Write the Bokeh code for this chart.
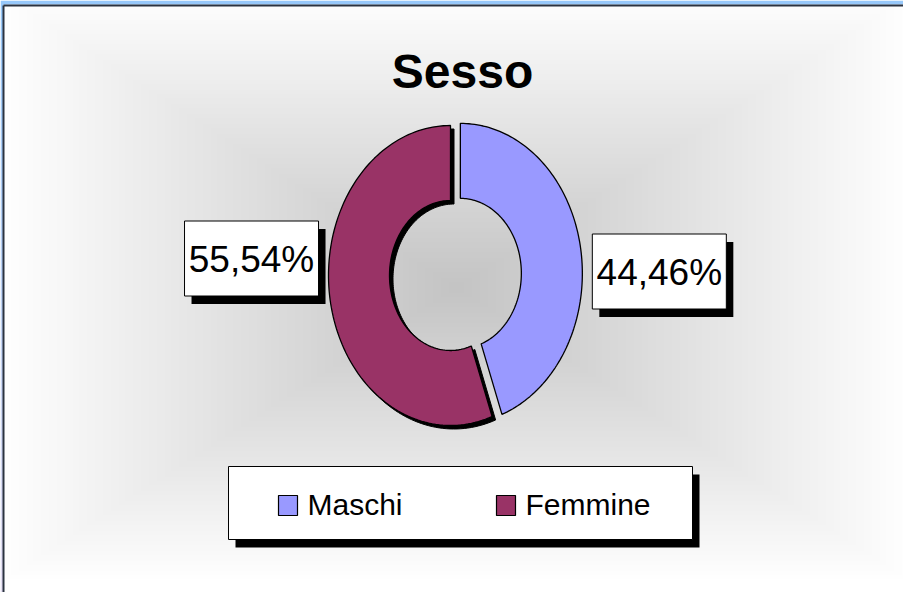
import numpy as np
from bokeh.plotting import figure
from bokeh.models import Range1d
from bokeh.core.properties import value
from bokeh.embed import file_html
from bokeh.resources import INLINE

# ---------------- data ----------------
title = "Sesso"
categories = ["Maschi", "Femmine"]
percentages = [44.46, 55.54]
label_texts = ["44,46%", "55,54%"]
colors = ["#9999ff", "#993366"]

# ---------------- style / layout (pixel-like data units, y up) ----------------
W, H = 903, 592
X0, X1 = 8, 911
Y0, Y1 = 0, 592
FONT = "Liberation Sans"

cx, cy = 458.0, 317.0          # donut centre
rx, ry = 122.0, 150.0          # outer radii (chart is stretched vertically)
hole = 0.5                     # inner/outer ratio
explode_px = [10.0, 0.0]       # per slice explosion
shadow_on = [False, True]
shadow_dx, shadow_dy = 3.5, -3.5
box_shadow_dx, box_shadow_dy = 7, -8
label_gap = 12
box_w, box_h = 134, 75
label_dy = [4, 17]

p = figure(width=W, height=H, x_range=Range1d(X0, X1), y_range=Range1d(Y0, Y1),
           output_backend="svg", toolbar_location=None, min_border=0,
           x_axis_location=None, y_axis_location=None)
p.grid.visible = False
p.outline_line_color = None
p.background_fill_color = "#ffffff"
p.border_fill_color = "#ffffff"

# ---------- outer blue background (vertical gradient) ----------
n = 60
tt = np.linspace(0, 1, n)[::-1]  # row 0 = bottom
top = np.array([151, 200, 250]); bot = np.array([230, 224, 244])
cols = (top[None, :] * (1 - tt[:, None]) + bot[None, :] * tt[:, None]).astype(np.uint32)
bg = np.zeros((n, 1), dtype=np.uint32)
bg[:, 0] = (np.uint32(255) << 24) | (cols[:, 2] << 16) | (cols[:, 1] << 8) | cols[:, 0]
p.image_rgba(image=[bg], x=X0, y=Y0, dw=X1 - X0, dh=Y1 - Y0)

# ---------- inner panel with rectangular gradient ----------
px0, py_top = 11.0, 587.0
step = 2
xs = np.arange(px0, X1 + step, step) + step / 2
ys = np.arange(0, py_top, step) + step / 2
gx, gy = np.meshgrid(xs, ys)
pcx, pcy = 464.0, 305.0
hw, hh = 453.0, 292.0
t = np.maximum(np.abs(gx - pcx) / hw, np.abs(gy - pcy) / hh)
t = np.clip(t, 0, 1)
g = (196 + (255 - 196) * t).astype(np.uint32)
panel = (np.uint32(255) << 24) | (g << 16) | (g << 8) | g
p.image_rgba(image=[panel.astype(np.uint32)], x=px0, y=0, dw=xs.size * step, dh=ys.size * step)
p.segment(x0=[px0, px0], y0=[0, py_top], x1=[px0, X1], y1=[py_top, py_top],
          line_color="#2b3340", line_width=2)

# ---------- title ----------
p.text(x=[470], y=[521], text=[title], text_font=value(FONT), text_font_style="bold",
       text_font_size="48px", text_align="center", text_baseline="middle", text_color="black")

# ---------- donut slices ----------
fr = np.array(percentages) / sum(percentages)
ends = np.cumsum(fr) * 2 * np.pi
starts = ends - fr * 2 * np.pi
polys_x, polys_y, sh_x, sh_y = [], [], [], []
mids = []
for i in range(len(categories)):
    a0, a1 = starts[i], ends[i]
    mid = (a0 + a1) / 2
    mids.append(mid)
    ex = explode_px[i] * np.sin(mid)
    ey = explode_px[i] * np.cos(mid) * (ry / rx)
    a = np.linspace(a0, a1, 120)
    ox = cx + ex + rx * np.sin(a); oy = cy + ey + ry * np.cos(a)
    ix = cx + ex + rx * hole * np.sin(a[::-1]); iy = cy + ey + ry * hole * np.cos(a[::-1])
    X = np.concatenate([ox, ix]); Y = np.concatenate([oy, iy])
    polys_x.append(list(X)); polys_y.append(list(Y))
    if shadow_on[i]:
        sh_x.append(list(X + shadow_dx)); sh_y.append(list(Y + shadow_dy))

p.patches(sh_x, sh_y, fill_color="black", line_color="black", line_width=1)
p.patches(polys_x, polys_y, fill_color=colors, line_color="black", line_width=1.3)

# ---------- data labels ----------
lbx, lby = [], []
for i in range(len(categories)):
    s = np.sin(mids[i])
    ex = explode_px[i] * s
    ax = cx + ex + s * (rx + label_gap)
    bxc = ax + np.sign(s) * box_w / 2
    lbx.append(bxc); lby.append(cy + label_dy[i])
lbx = np.array(lbx); lby = np.array(lby)
p.quad(left=lbx - box_w / 2 + box_shadow_dx, right=lbx + box_w / 2 + box_shadow_dx,
       bottom=lby - box_h / 2 + box_shadow_dy, top=lby + box_h / 2 + box_shadow_dy,
       fill_color="black", line_color=None)
p.quad(left=lbx - box_w / 2, right=lbx + box_w / 2, bottom=lby - box_h / 2, top=lby + box_h / 2,
       fill_color="white", line_color="black", line_width=1)
p.text(x=lbx, y=lby - 1, text=label_texts, text_font=value(FONT), text_font_size="37px",
       text_align="center", text_baseline="middle", text_color="black")

# ---------- legend ----------
lg_l, lg_r, lg_b, lg_t = 236, 700, 53, 126
p.quad(left=[lg_l + box_shadow_dx], right=[lg_r + box_shadow_dx], bottom=[lg_b + box_shadow_dy],
       top=[lg_t + box_shadow_dy], fill_color="black", line_color=None)
p.quad(left=[lg_l], right=[lg_r], bottom=[lg_b], top=[lg_t], fill_color="white",
       line_color="black", line_width=1)
item_x = np.array([286 + 218 * i for i in range(len(categories))], dtype=float)
item_y = 88.0
p.quad(left=item_x, right=item_x + 19, bottom=item_y - 11, top=item_y + 9,
       fill_color=colors, line_color="black", line_width=1.2)
p.text(x=item_x + 29, y=[item_y] * len(categories), text=categories, text_font=value(FONT),
       text_font_size="30px", text_align="left", text_baseline="middle", text_color="black")

open("out.html", "w").write(file_html(p, INLINE))
